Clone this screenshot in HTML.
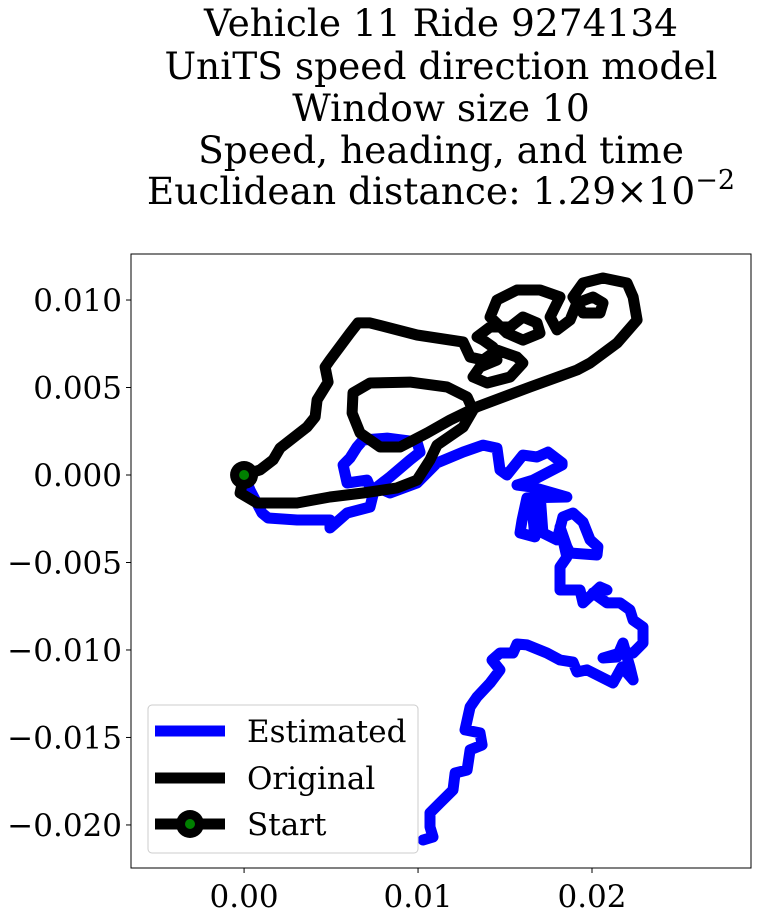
<!DOCTYPE html>
<html><head><meta charset="utf-8"><style>
html,body{margin:0;padding:0;background:#fff;}
svg{display:block;font-family:"DejaVu Serif","Liberation Serif",serif;}
</style></head><body>
<svg id="chart" width="759" height="916" viewBox="0 0 759 916" xmlns="http://www.w3.org/2000/svg">
<g font-size="37.5" text-anchor="middle" fill="#000">
<text x="441" y="36">Vehicle 11 Ride 9274134</text>
<text x="441" y="79">UniTS speed direction model</text>
<text x="441" y="121">Window size 10</text>
<text x="441" y="163">Speed, heading, and time</text>
<text x="441" y="204">Euclidean distance: 1.29×10<tspan dy="-15" font-size="27">−2</tspan></text>
</g>
<defs><clipPath id="clip"><rect x="131" y="254" width="620" height="614"/></clipPath></defs>
<g id="series" clip-path="url(#clip)"></g>
<rect x="131" y="254" width="620" height="614" fill="none" stroke="#000" stroke-width="1"/>
<g id="xticks" font-size="31" text-anchor="middle"></g>
<g id="yticks" font-size="31" text-anchor="end"></g>
<g>
<rect x="148" y="705" width="270" height="148" rx="4" fill="#fff" fill-opacity="0.8" stroke="#ccc"/>
<g><line x1="155" y1="731" x2="225" y2="731" stroke="#0000ff" stroke-width="11"/><text x="247" y="742" font-size="31">Estimated</text></g>
<g><line x1="155" y1="778" x2="225" y2="778" stroke="#000" stroke-width="11"/><text x="247" y="789" font-size="31">Original</text></g>
<g><line x1="155" y1="824" x2="225" y2="824" stroke="#000" stroke-width="11"/><circle cx="190" cy="824" r="14" fill="#000"/><circle cx="190" cy="824" r="5" fill="#008000"/><text x="247" y="835" font-size="31">Start</text></g>
</g>
</svg>
<script>
// values in units of 1e-3
const estX=[0,0.34,1.03,1.38,3.05,4.94,4.94,5.92,7.24,7.41,7.24,7.07,5.92,5.69,6.09,6.49,6.84,8.22,9.94,10.11,9.54,8.39,7.64,8.39,9.94,11.09,12.59,13.74,14.54,14.71,15.11,16.03,16.84,17.47,18.28,18.28,16.61,15.69,16.55,18.56,16.26,15.98,15.86,16.72,16.55,17.01,17.18,17.99,18.33,18.91,19.48,19.89,20.34,20.29,18.74,18.56,18.16,18.56,18.16,18.16,19.31,19.48,20.46,20.86,20.06,20.86,21.61,22.18,22.36,22.93,22.93,22.36,21.61,20.63,21.44,21.78,22.18,22.36,21.72,21.21,19.71,19.14,18.91,18.16,17.41,16.26,15.69,15.46,14.71,14.25,14.71,14.14,13.39,12.99,12.70,13.56,13.68,12.99,12.82,12.13,12.01,11.26,10.69,10.69,10.86,10.29];
const estY=[0,-0.86,-2.17,-2.46,-2.57,-2.57,-3.03,-2.17,-1.83,-1.14,-0.69,-0.29,-0.46,0.57,0.97,1.6,2.0,2.11,1.89,1.31,0.86,-0.11,-0.69,-1.03,-0.46,0.69,1.31,1.71,1.54,0.29,0,1.14,1.03,1.31,0.69,0.57,-0.29,-0.57,-0.69,-1.26,-1.31,-2.57,-3.31,-3.54,-1.83,-1.03,-3.31,-3.71,-2.4,-2.17,-2.69,-3.71,-4.11,-4.57,-4.46,-4.11,-2.97,-4.69,-5.26,-6.57,-6.57,-7.31,-6.4,-6.57,-6.74,-7.31,-7.31,-7.71,-8.29,-8.69,-9.6,-10.17,-10.17,-10.46,-10.4,-9.6,-10.97,-11.71,-10.97,-11.89,-11.14,-11.26,-10.69,-10.57,-10.17,-9.71,-9.66,-10.17,-10.17,-10.57,-11.14,-11.89,-12.69,-13.26,-14.57,-14.74,-15.43,-15.71,-16.86,-17.03,-18.0,-18.74,-19.31,-20.11,-20.69,-20.86];
const origX=[0,0.92,1.67,2.07,3.62,4.08,4.2,4.83,4.66,4.94,6.09,6.55,7.24,9.94,12.59,12.99,13.74,14.54,15.69,16.03,15.29,13.97,13.16,13.56,14.54,14.31,13.74,13.39,14.14,15.29,16.03,16.84,17.01,16.03,15.11,14.14,14.54,15.69,17.01,18.16,17.59,17.99,18.74,19.14,20.06,20.63,20.46,19.48,18.91,19.48,20.63,22.01,22.36,22.59,21.44,19.89,19.14,16.44,13.39,11.84,10.52,8.97,7.82,6.67,6.21,6.26,7.24,9.54,11.67,12.82,13.16,12.59,11.09,10.69,9.94,8.79,6.84,4.94,3.05,0.75,-0.23,0];
const origY=[0,0.29,0.86,1.54,2.74,3.31,4.29,5.31,6.17,6.57,8.11,8.69,8.69,8.0,7.6,6.74,6.57,7.14,6.74,6.4,5.6,5.26,5.6,6.17,6.57,7.31,7.71,7.89,8.46,8.46,9.03,8.69,8.11,7.71,8.11,9.03,10.0,10.57,10.57,10.17,9.03,8.29,8.86,9.83,10.17,9.83,9.26,9.26,10.17,10.97,11.26,10.97,10.17,8.86,7.54,6.4,6.0,5.03,3.89,3.14,2.4,1.6,1.6,2.4,3.54,4.69,5.26,5.31,5.03,4.46,3.71,2.74,1.71,0.86,-0.29,-0.74,-1.03,-1.26,-1.6,-1.6,-1.03,0];
const startPt=[0,0];
const xTicks=[0,0.01,0.02];
const xTickLabels=["0.00","0.01","0.02"];
const yTicks=[0.01,0.005,0,-0.005,-0.01,-0.015,-0.02];
const yTickLabels=["0.010","0.005","0.000","\u22120.005","\u22120.010","\u22120.015","\u22120.020"];

const NS="http://www.w3.org/2000/svg";
const xMin=-0.0065,xMax=0.02914,yMin=-0.02246,yMax=0.01263;
const L=131,R=751,T=254,B=868;
function sx(v){return L+(v-xMin)/(xMax-xMin)*(R-L);}
function sy(v){return B-(v-yMin)/(yMax-yMin)*(B-T);}
const series=document.getElementById('series');
function addPath(xs,ys,color,name){
  const p=document.createElementNS(NS,'polyline');
  p.setAttribute('points',xs.map((x,i)=>sx(x/1000).toFixed(1)+','+sy(ys[i]/1000).toFixed(1)).join(' '));
  p.setAttribute('fill','none');p.setAttribute('stroke',color);p.setAttribute('stroke-width','11');
  p.setAttribute('stroke-linejoin','round');p.setAttribute('stroke-linecap','round');
  
  
  series.appendChild(p);
}
addPath(estX,estY,'#0000ff','estimated-path');
addPath(origX,origY,'#000','original-path');
const c1=document.createElementNS(NS,'circle');
c1.setAttribute('cx',sx(startPt[0]));c1.setAttribute('cy',sy(startPt[1]));c1.setAttribute('r','14');c1.setAttribute('fill','#000');


series.appendChild(c1);
const c2=document.createElementNS(NS,'circle');
c2.setAttribute('cx',sx(startPt[0]));c2.setAttribute('cy',sy(startPt[1]));c2.setAttribute('r','5');c2.setAttribute('fill','#008000');


series.appendChild(c2);
const xg=document.getElementById('xticks');
xTicks.forEach((v,i)=>{
  const l=document.createElementNS(NS,'line');
  l.setAttribute('x1',sx(v));l.setAttribute('x2',sx(v));l.setAttribute('y1',B);l.setAttribute('y2',B+5);l.setAttribute('stroke','#000');
  
  
  xg.appendChild(l);
  const t=document.createElementNS(NS,'text');
  t.setAttribute('x',sx(v));t.setAttribute('y',B+39);t.textContent=xTickLabels[i];
  
  
  xg.appendChild(t);
});
const yg=document.getElementById('yticks');
yTicks.forEach((v,i)=>{
  const l=document.createElementNS(NS,'line');
  l.setAttribute('x1',L-5);l.setAttribute('x2',L);l.setAttribute('y1',sy(v));l.setAttribute('y2',sy(v));l.setAttribute('stroke','#000');
  
  
  yg.appendChild(l);
  const t=document.createElementNS(NS,'text');
  t.setAttribute('x',L-9);t.setAttribute('y',sy(v)+11);t.textContent=yTickLabels[i];
  
  
  yg.appendChild(t);
});
</script>
</body></html>
